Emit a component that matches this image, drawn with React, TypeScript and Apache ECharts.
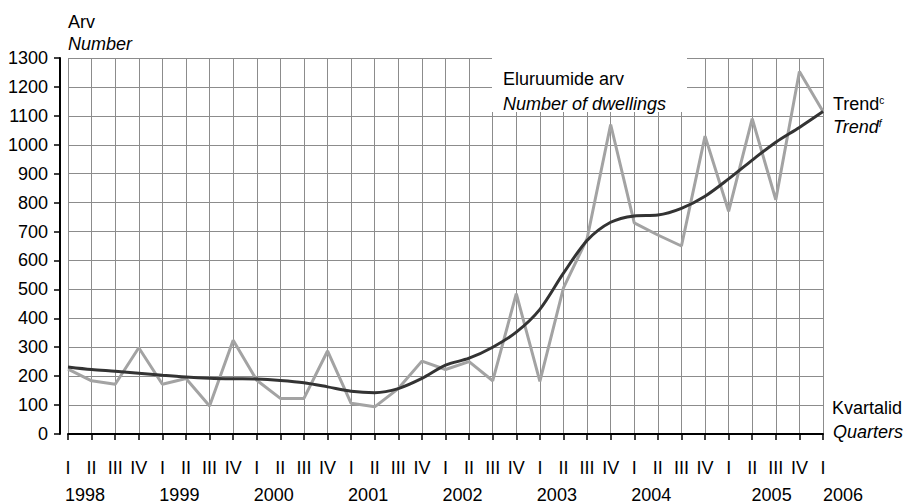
import React, { useEffect, useRef } from 'react';
import * as echarts from 'echarts';

const quarterLabels = [
  'I', 'II', 'III', 'IV', 'I', 'II', 'III', 'IV', 'I', 'II', 'III', 'IV',
  'I', 'II', 'III', 'IV', 'I', 'II', 'III', 'IV', 'I', 'II', 'III', 'IV',
  'I', 'II', 'III', 'IV', 'I', 'II', 'III', 'IV', 'I',
];
const yearTicks = ['1998', '1999', '2000', '2001', '2002', '2003', '2004', '2005', '2006'];
const yTicks = { min: 0, max: 1300, interval: 100 };

const dwellings = [
  224, 184, 172, 298, 172, 192, 97, 324, 186, 123, 123, 287, 106, 94, 157, 252,
  223, 250, 184, 485, 182, 505, 675, 1070, 730, 688, 650, 1030, 770, 1090, 810, 1253, 1115,
];
const trend = [
  232, 223, 217, 210, 203, 197, 193, 191, 190, 185, 177, 163, 148, 143, 157, 192,
  238, 262, 300, 352, 431, 556, 669, 732, 754, 757, 780, 822, 882, 947, 1009, 1060, 1115,
];

const FONT = "'Liberation Sans', Arial, Helvetica, sans-serif";
const FS = 18;

export default function App() {
  const ref = useRef<HTMLDivElement>(null);
  useEffect(() => {
    const chart = echarts.init(ref.current!, null, { renderer: 'svg' });
    const yearAxisData = quarterLabels.map((_, i) => (i % 4 === 0 ? yearTicks[i / 4] : ''));
    chart.setOption({
      animation: false,
      textStyle: { fontFamily: FONT, color: '#000' },
      grid: { left: 68, right: 84, top: 58, bottom: 69, containLabel: false },
      xAxis: [
        {
          type: 'category',
          data: quarterLabels,
          boundaryGap: false,
          position: 'bottom',
          offset: 10,
          axisLine: { show: true, lineStyle: { color: '#000', width: 2 } },
          axisTick: { show: true, interval: 0, length: 6, lineStyle: { color: '#000', width: 1.5 } },
          axisLabel: { interval: 0, margin: 15, fontSize: FS, color: '#000', fontFamily: FONT },
          splitLine: { show: true, interval: 0, lineStyle: { color: '#8c8c8c', width: 1 } },
        },
        {
          type: 'category',
          data: yearAxisData,
          boundaryGap: false,
          position: 'bottom',
          offset: 43,
          axisLine: { show: false },
          axisTick: { show: false },
          splitLine: { show: false },
          axisLabel: {
            interval: 0,
            margin: 9,
            fontSize: FS,
            color: '#000',
            fontFamily: FONT,
            formatter: (v: string) => {
              if (!v) return '';
              if (v === '2006') return '{c|' + v + '}';
              if (v === '2005') return '{b|' + v + '}';
              return '{a|' + v + '}';
            },
            rich: {
              a: { fontSize: FS, fontFamily: FONT, color: '#000', padding: [0, 0, 0, 34] },
              b: { fontSize: FS, fontFamily: FONT, color: '#000', padding: [0, 0, 0, 86] },
              c: { fontSize: FS, fontFamily: FONT, color: '#000', padding: [0, 0, 0, 40] },
            },
          },
        },
      ],
      yAxis: {
        type: 'value',
        min: yTicks.min,
        max: yTicks.max,
        interval: yTicks.interval,
        offset: 8,
        axisLine: { show: true, lineStyle: { color: '#000', width: 2 } },
        axisTick: { show: true, length: 6, lineStyle: { color: '#000', width: 1.5 } },
        axisLabel: { margin: 12, fontSize: FS, color: '#000', fontFamily: FONT, formatter: (v: number) => String(v) },
        splitLine: { show: true, lineStyle: { color: '#8c8c8c', width: 1 } },
      },
      series: [
        {
          name: 'Eluruumide arv',
          type: 'line',
          data: dwellings,
          symbol: 'none',
          lineStyle: { color: '#a3a3a3', width: 3 },
          z: 2,
        },
        {
          name: 'Trend',
          type: 'line',
          data: trend,
          symbol: 'none',
          smooth: 0.3,
          lineStyle: { color: '#333333', width: 3 },
          z: 3,
        },
      ],
      graphic: [
        { type: 'rect', x: 492, y: 58, shape: { width: 195, height: 54 }, style: { fill: '#fff' }, z: 5 },
        { type: 'text', x: 68, y: 22, z: 6, style: { text: 'Arv', fill: '#000', font: `${FS}px ${FONT}`, verticalAlign: 'middle' } },
        { type: 'text', x: 68, y: 43.5, z: 6, style: { text: 'Number', fill: '#000', font: `italic ${FS}px ${FONT}`, verticalAlign: 'middle' } },
        { type: 'text', x: 503, y: 79, z: 6, style: { text: 'Eluruumide arv', fill: '#000', font: `${FS}px ${FONT}`, verticalAlign: 'middle' } },
        { type: 'text', x: 503, y: 103.5, z: 6, style: { text: 'Number of dwellings', fill: '#000', font: `italic ${FS}px ${FONT}`, verticalAlign: 'middle' } },
        {
          type: 'text', x: 833, y: 104, z: 6,
          style: {
            text: '{a|Trend}{s|c}', verticalAlign: 'middle', fill: '#000',
            rich: {
              a: { fontSize: FS, fontFamily: FONT, color: '#000' },
              s: { fontSize: 10, fontFamily: FONT, color: '#000', verticalAlign: 'top' },
            },
          },
        },
        {
          type: 'text', x: 833, y: 127, z: 6,
          style: {
            text: '{a|Trend}{s|f}', verticalAlign: 'middle', fill: '#000',
            rich: {
              a: { fontSize: FS, fontFamily: FONT, fontStyle: 'italic', color: '#000' },
              s: { fontSize: 10, fontFamily: FONT, fontStyle: 'italic', color: '#000', verticalAlign: 'top' },
            },
          },
        },
        { type: 'text', x: 832, y: 408, z: 6, style: { text: 'Kvartalid', fill: '#000', font: `${FS}px ${FONT}`, verticalAlign: 'middle' } },
        { type: 'text', x: 833, y: 432, z: 6, style: { text: 'Quarters', fill: '#000', font: `italic ${FS}px ${FONT}`, verticalAlign: 'middle' } },
      ],
    });
    return () => chart.dispose();
  }, []);
  return <div ref={ref} style={{ position: 'absolute', left: 0, top: 0, width: 907, height: 504 }} />;
}
